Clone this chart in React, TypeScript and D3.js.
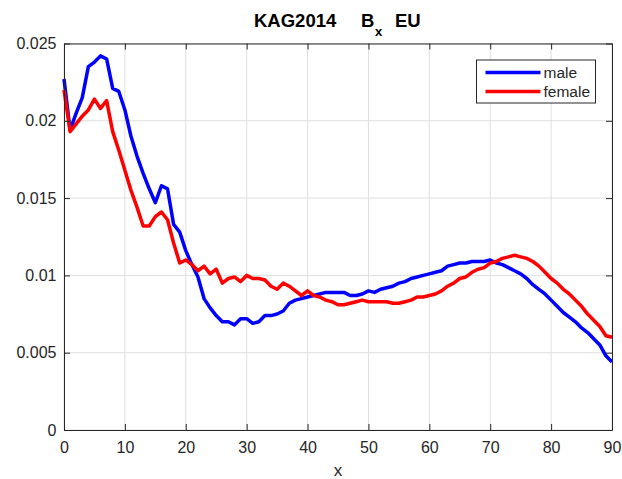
import React, { useEffect, useRef } from 'react';
import * as d3 from 'd3';

// ages 0..90
const ages = d3.range(0, 91);

const male = [
  0.0227, 0.0194, 0.0205, 0.0215, 0.0235, 0.0238, 0.0242, 0.024, 0.0221, 0.0219,
  0.0207, 0.019, 0.0177, 0.0166, 0.0156, 0.0147, 0.0158, 0.0156, 0.0133, 0.0128,
  0.0116, 0.0107, 0.0099, 0.0085, 0.0079, 0.0074, 0.007, 0.007, 0.0068, 0.0072,
  0.0072, 0.0069, 0.007, 0.0074, 0.0074, 0.0075, 0.0077, 0.0082, 0.0084, 0.0085,
  0.0086, 0.0087, 0.0088, 0.0089, 0.0089, 0.0089, 0.0089, 0.0087, 0.0087, 0.0088,
  0.009, 0.0089, 0.0091, 0.0092, 0.0093, 0.0095, 0.0096, 0.0098, 0.0099, 0.01,
  0.0101, 0.0102, 0.0103, 0.0106, 0.0107, 0.0108, 0.0108, 0.0109, 0.0109, 0.0109,
  0.011, 0.0108, 0.0107, 0.0105, 0.0103, 0.0101, 0.0098, 0.0094, 0.0091, 0.0088,
  0.0084, 0.008, 0.0076, 0.0073, 0.007, 0.0066, 0.0063, 0.0059, 0.0055, 0.0048,
  0.0044,
];

const female = [
  0.022, 0.0193, 0.0198, 0.0203, 0.0207, 0.0214, 0.0208, 0.0213, 0.0193, 0.0181,
  0.0168, 0.0155, 0.0144, 0.0132, 0.0132, 0.0138, 0.0141, 0.0136, 0.0121, 0.0108,
  0.011, 0.0107, 0.0103, 0.0106, 0.0101, 0.0104, 0.0095, 0.0098, 0.0099, 0.0096,
  0.01, 0.0098, 0.0098, 0.0097, 0.0093, 0.0091, 0.0095, 0.0093, 0.009, 0.0087,
  0.009, 0.0087, 0.0086, 0.0084, 0.0083, 0.0081, 0.0081, 0.0082, 0.0083, 0.0084,
  0.0083, 0.0083, 0.0083, 0.0083, 0.0082, 0.0082, 0.0083, 0.0084, 0.0086, 0.0086,
  0.0087, 0.0088, 0.009, 0.0093, 0.0095, 0.0098, 0.0099, 0.0102, 0.0104, 0.0105,
  0.0108, 0.0109, 0.0111, 0.0112, 0.0113, 0.0112, 0.0111, 0.0109, 0.0106, 0.0102,
  0.0098, 0.0095, 0.0091, 0.0088, 0.0084, 0.008, 0.0075, 0.0071, 0.0067, 0.0061,
  0.006,
];

const xTicks = [0, 10, 20, 30, 40, 50, 60, 70, 80, 90];
const yTicks = [0, 0.005, 0.01, 0.015, 0.02, 0.025];
const yTickLabels = ['0', '0.005', '0.01', '0.015', '0.02', '0.025'];

const series = [
  { name: 'male', values: male, color: '#0000ff' },
  { name: 'female', values: female, color: '#ff0000' },
];

const W = 622;
const H = 479;
const FONT = '"Liberation Sans", Arial, sans-serif';
const AXIS = '#262626';

export default function App() {
  const ref = useRef<SVGSVGElement>(null);

  useEffect(() => {
    const svg = d3.select(ref.current);
    svg.selectAll('*').remove();

    const margin = { top: 43.5, right: 10, bottom: 49, left: 64 };
    const width = W - margin.left - margin.right;
    const height = H - margin.top - margin.bottom;

    const x = d3.scaleLinear().domain([0, 90]).range([0, width]);
    const y = d3.scaleLinear().domain([0, 0.025]).range([height, 0]);

    const g = svg
      .append('g')
      .attr('transform', `translate(${margin.left},${margin.top})`);

    // grid
    g.append('g')
      .selectAll('line')
      .data(xTicks)
      .join('line')
      .attr('x1', (d) => x(d))
      .attr('x2', (d) => x(d))
      .attr('y1', 0)
      .attr('y2', height)
      .attr('stroke', '#dfdfdf')
      .attr('stroke-width', 1);
    g.append('g')
      .selectAll('line')
      .data(yTicks)
      .join('line')
      .attr('x1', 0)
      .attr('x2', width)
      .attr('y1', (d) => y(d))
      .attr('y2', (d) => y(d))
      .attr('stroke', '#dfdfdf')
      .attr('stroke-width', 1);

    // lines
    const line = d3
      .line<number>()
      .x((d, i) => x(ages[i]))
      .y((d) => y(d));
    series.forEach((s) => {
      g.append('path')
        .datum(s.values)
        .attr('fill', 'none')
        .attr('stroke', s.color)
        .attr('stroke-width', 3.5)
        .attr('stroke-linejoin', 'round')
        .attr('d', line);
    });

    // axes: ticks inward on all four sides
    const tickLen = 6;
    const bottom = g
      .append('g')
      .attr('transform', `translate(0,${height})`)
      .call(
        d3
          .axisBottom(x)
          .tickValues(xTicks)
          .tickSizeInner(-tickLen)
          .tickSizeOuter(0)
          .tickPadding(12),
      );
    const left = g.append('g').call(
      d3
        .axisLeft(y)
        .tickValues(yTicks)
        .tickFormat((d, i) => yTickLabels[i])
        .tickSizeInner(-tickLen)
        .tickSizeOuter(0)
        .tickPadding(7.5),
    );
    const top = g.append('g').call(
      d3.axisTop(x).tickValues(xTicks).tickSizeInner(-tickLen).tickSizeOuter(0).tickFormat(() => ''),
    );
    const right = g
      .append('g')
      .attr('transform', `translate(${width},0)`)
      .call(
        d3
          .axisRight(y)
          .tickValues(yTicks)
          .tickSizeInner(-tickLen)
          .tickSizeOuter(0)
          .tickFormat(() => ''),
      );
    [bottom, left, top, right].forEach((a) => {
      a.selectAll('path').attr('stroke', AXIS);
      a.selectAll('line').attr('stroke', AXIS);
      a.selectAll('text')
        .attr('fill', AXIS)
        .style('font-family', FONT)
        .style('font-size', '16px');
    });

    // x label
    g.append('text')
      .attr('x', x(45))
      .attr('y', height + 46)
      .attr('text-anchor', 'middle')
      .attr('fill', AXIS)
      .style('font-family', FONT)
      .style('font-size', '17px')
      .text('x');

    // title
    const title = svg
      .append('text')
      .attr('y', 26.5)
      .attr('fill', '#000')
      .style('font-family', FONT)
      .style('font-weight', 'bold')
      .style('font-size', '18.5px');
    title.append('tspan').attr('x', 254).text('KAG2014');
    title.append('tspan').attr('x', 361).text('B');
    title
      .append('tspan')
      .attr('x', 375)
      .attr('dy', 9)
      .style('font-size', '13px')
      .text('x');
    title.append('tspan').attr('x', 395).attr('dy', -9).text('EU');

    // legend
    const lg = svg.append('g').attr('transform', 'translate(476.5,60)');
    lg.append('rect')
      .attr('width', 119)
      .attr('height', 43)
      .attr('fill', '#fff')
      .attr('stroke', AXIS)
      .attr('stroke-width', 1);
    series.forEach((s, i) => {
      const yy = 12.5 + i * 19;
      lg.append('line')
        .attr('x1', 9)
        .attr('x2', 64)
        .attr('y1', yy)
        .attr('y2', yy)
        .attr('stroke', s.color)
        .attr('stroke-width', 3.5);
      lg.append('text')
        .attr('x', 67)
        .attr('y', yy + 5.5)
        .attr('fill', AXIS)
        .style('font-family', FONT)
        .style('font-size', '15.5px')
        .text(s.name);
    });
  }, []);

  return (
    <div style={{ position: 'absolute', left: 0, top: 0 }}>
      <svg ref={ref} width={W} height={H} style={{ display: 'block', background: '#fff' }} />
    </div>
  );
}
